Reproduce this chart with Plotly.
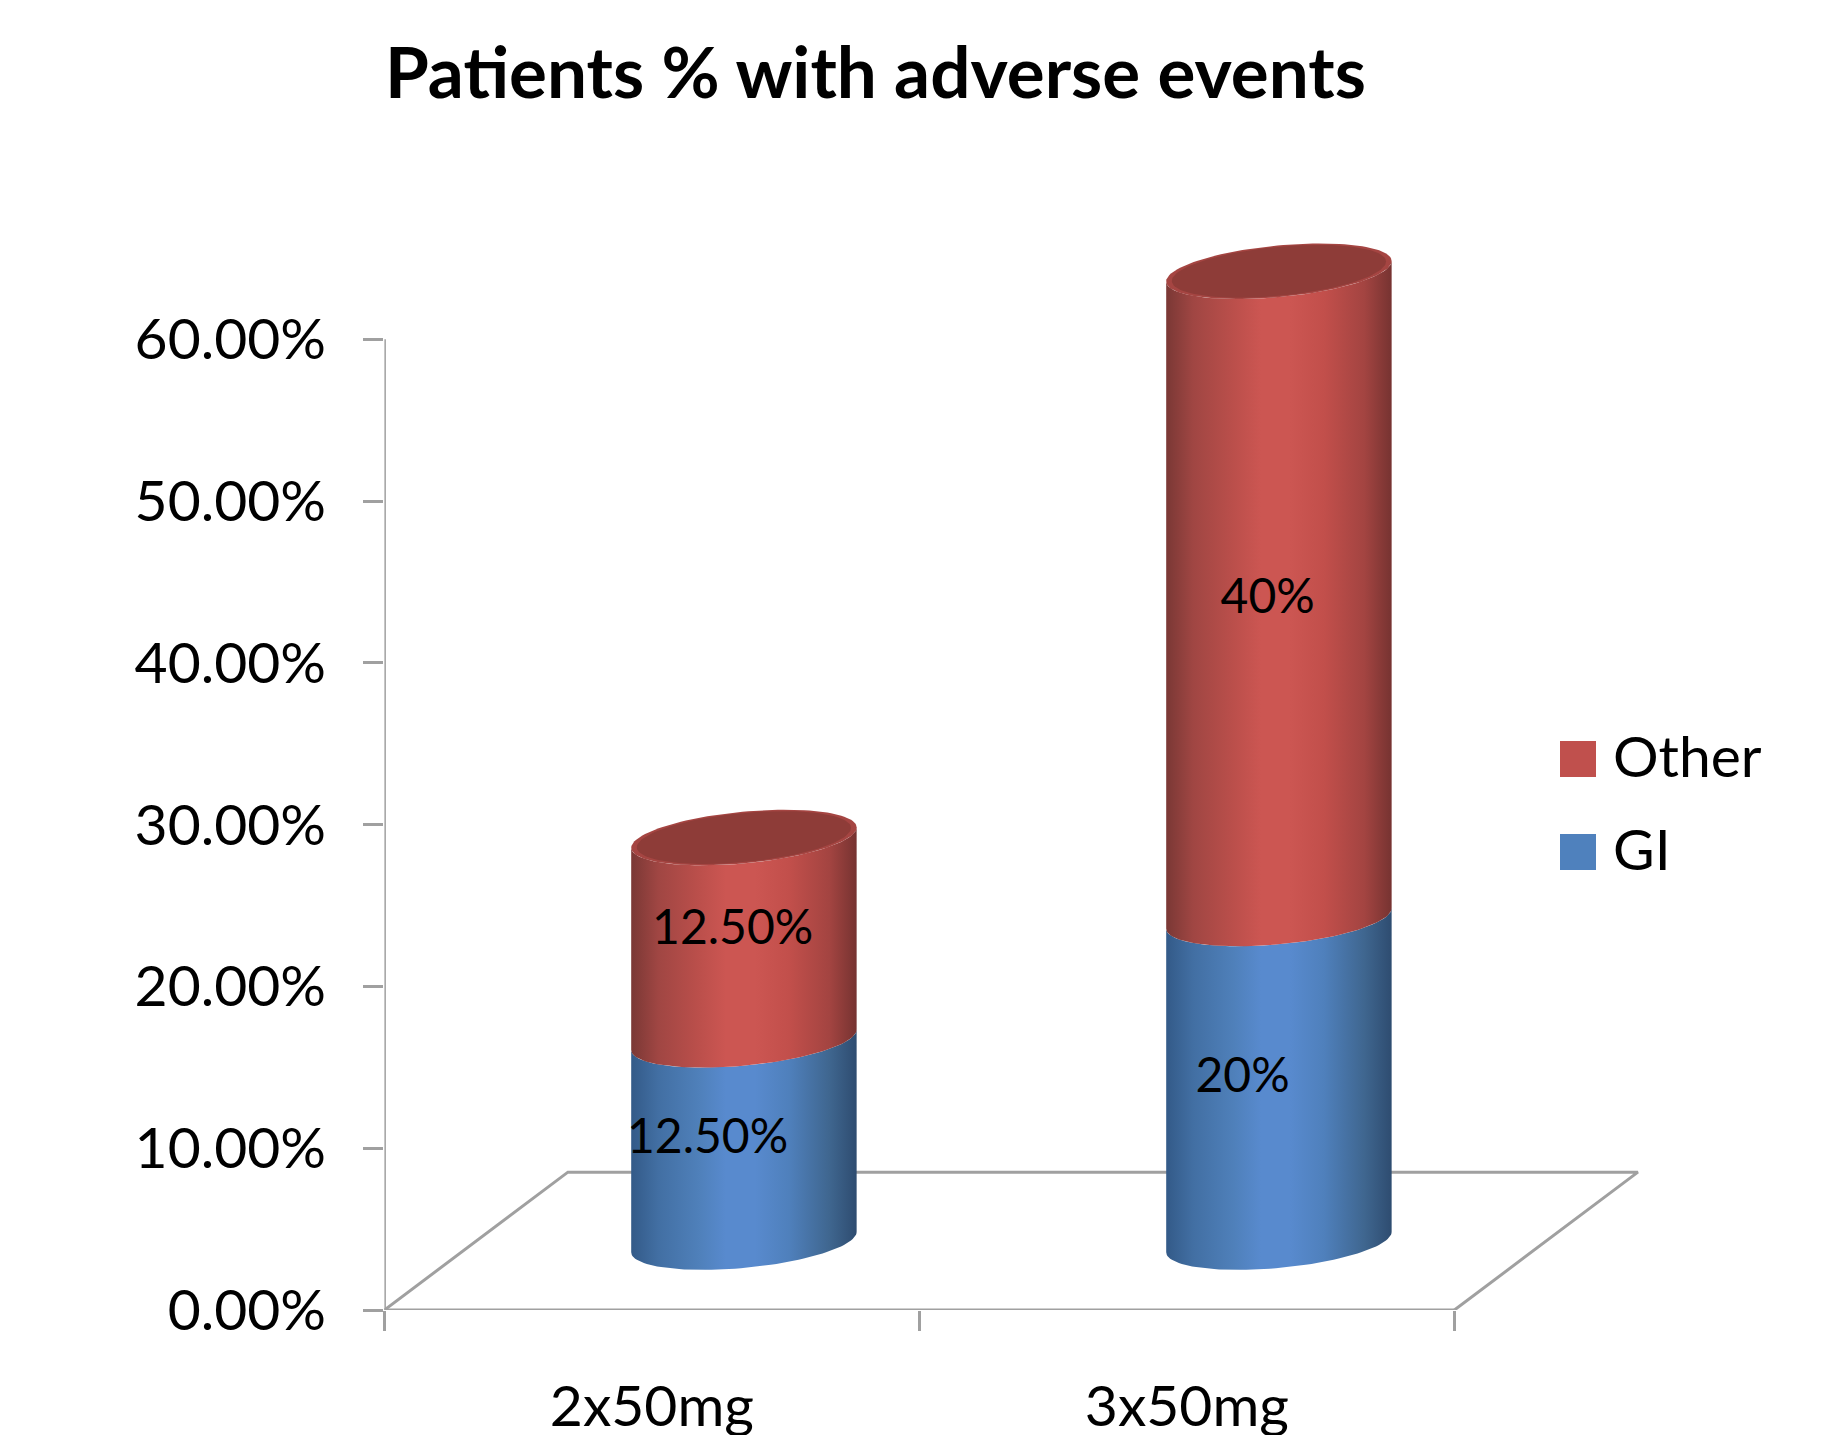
import numpy as np
import plotly.graph_objects as go

# Chart content
TITLE = "Patients % with adverse events"
categories = ["2x50mg", "3x50mg"]
gi_values = [0.125, 0.20]
other_values = [0.125, 0.40]
gi_labels = ["12.50%", "20%"]
other_labels = ["12.50%", "40%"]
y_ticks = [0, 0.1, 0.2, 0.3, 0.4, 0.5, 0.6]

# Fonts and colours
FONT = "Lato"
AXIS_GREY = "#a0a0a0"
RED_SWATCH = "#c0504d"
BLUE_SWATCH = "#4f81bd"
RED_RAMP = [[0, "#7a3835"], [0.12, "#a04643"], [0.3, "#bb4f4b"], [0.42, "#cc5652"], [0.55, "#cc5652"],
            [0.7, "#c24f4b"], [0.88, "#a34441"], [1, "#763331"]]
BLUE_RAMP = [[0, "#335a88"], [0.12, "#426fa3"], [0.3, "#4f80ba"], [0.42, "#588ace"], [0.55, "#588ace"],
             [0.7, "#4f80bc"], [0.88, "#3f668f"], [1, "#2e4c70"]]
TOP_RIM = "#a54542"
TOP_FACE = "#8e3c38"

# Pseudo-3D geometry, in axis units
FLOOR_DX, FLOOR_DY = 0.343, 0.0852
BAR_SHIFT = 0.172          # sideways shift of a bar from its category centre
BAR_HALF = 0.2107          # half the bar's width
BASE_LIFT = 0.042          # height of the bar's base above the front of the floor
ELL_B, ELL_TILT = 0.016, 0.0063

X_MAX, Y_MAX = 2.4, 0.68
PX_LEFT, PX_UNIT_X = 384.4, 535.0
PX_ZERO, PX_UNIT_Y = 1310.0, 1618.0
W, H = 1832, 1435

# Nudges that keep the value labels clear of the cylinder edges
GI_LABEL_NUDGE = [0.0, 0.0]
OTHER_LABEL_NUDGE = [0.004, -0.004]


def arc(cx, cy, t0, t1, scale=1.0, n=60):
    t = np.linspace(t0, t1, n)
    x = cx + scale * BAR_HALF * np.cos(t)
    y = cy + scale * (ELL_TILT * np.cos(t) + ELL_B * np.sin(t))
    return x, y


def segment(cx, lo, hi):
    # Side of a cylinder between two levels: lower front arc, then upper front arc back
    xl, yl = arc(cx, lo, np.pi, 2 * np.pi)
    xu, yu = arc(cx, hi, 2 * np.pi, np.pi)
    return np.r_[xl, xu, xl[0]], np.r_[yl, yu, yl[0]]


def paper_x(px):
    return px / W


def paper_y(py):
    return 1 - py / H


fig = go.Figure()

# Floor of the plot, behind the bars
fig.add_trace(go.Scatter(
    x=[0, FLOOR_DX, 2 + FLOOR_DX, 2], y=[0, FLOOR_DY, FLOOR_DY, 0], mode="lines",
    line=dict(color=AXIS_GREY, width=3), hoverinfo="skip", showlegend=False))
# Axis lines, which stop at the last tick even though the plot area runs further
fig.add_trace(go.Scatter(
    x=[0, 0, None, 0, 2], y=[0, y_ticks[-1], None, 0, 0], mode="lines",
    line=dict(color=AXIS_GREY, width=3), hoverinfo="skip", showlegend=False))

for i, (gi, other) in enumerate(zip(gi_values, other_values)):
    cx = i + 0.5 + BAR_SHIFT
    base = BASE_LIFT
    mid = base + gi
    top = mid + other
    for (lo, hi, ramp, name) in ((base, mid, BLUE_RAMP, "GI"), (mid, top, RED_RAMP, "Other")):
        sx, sy = segment(cx, lo, hi)
        fig.add_trace(go.Scatter(
            x=sx, y=sy, mode="lines", line=dict(width=0), fill="toself",
            fillgradient=dict(type="horizontal", colorscale=ramp),
            name=name, hoverinfo="skip", showlegend=False))
    # Top face of the cylinder: a lighter rim round a darker face
    for scale, colour in ((1.0, TOP_RIM), (0.95, TOP_FACE)):
        ex, ey = arc(cx, top, 0, 2 * np.pi, scale=scale, n=120)
        fig.add_trace(go.Scatter(
            x=ex, y=ey, mode="lines", line=dict(width=0), fill="toself",
            fillcolor=colour, hoverinfo="skip", showlegend=False))

# Value labels
bar_x = np.arange(len(categories)) + 0.5 + BAR_SHIFT
gi_arr = np.array(gi_values)
other_arr = np.array(other_values)
fig.add_trace(go.Scatter(
    x=bar_x - 0.068, y=BASE_LIFT + gi_arr / 2 + np.array(GI_LABEL_NUDGE), mode="text", text=gi_labels,
    textposition="middle center", textfont=dict(family=FONT, size=48, color="#000000"),
    hoverinfo="skip", showlegend=False))
fig.add_trace(go.Scatter(
    x=bar_x - 0.021, y=BASE_LIFT + gi_arr + other_arr / 2 + np.array(OTHER_LABEL_NUDGE), mode="text",
    text=other_labels,
    textposition="middle center", textfont=dict(family=FONT, size=48, color="#000000"),
    hoverinfo="skip", showlegend=False))

# Title, legend swatches and legend names
shapes = []
annotations = [dict(
    text=f"<b>{TITLE}</b>", xref="paper", yref="paper",
    x=paper_x(875), y=paper_y(71), xanchor="center", yanchor="middle",
    showarrow=False, font=dict(family=FONT, size=71, color="#000000"))]
for name, colour, y0 in (("Other", RED_SWATCH, 741), ("GI", BLUE_SWATCH, 834)):
    shapes.append(dict(type="rect", xref="paper", yref="paper",
                       x0=paper_x(1560), x1=paper_x(1596),
                       y0=paper_y(y0), y1=paper_y(y0 + 36),
                       fillcolor=colour, line=dict(width=0)))
    annotations.append(dict(text=name, xref="paper", yref="paper",
                            x=paper_x(1611), y=paper_y(y0 + 14), xanchor="left", yanchor="middle",
                            showarrow=False, font=dict(family=FONT, size=57, color="#000000")))

fig.update_layout(
    width=W, height=H, autosize=False, margin=dict(l=0, r=0, t=0, b=0, pad=0),
    paper_bgcolor="#ffffff", plot_bgcolor="#ffffff", showlegend=False,
    shapes=shapes, annotations=annotations,
    font=dict(family=FONT, size=57, color="#000000"),
    xaxis=dict(
        domain=[PX_LEFT / W, (PX_LEFT + X_MAX * PX_UNIT_X) / W], range=[0, X_MAX],
        tickvals=[0.5, 1.5], ticktext=categories, ticks="", ticklabelstandoff=58,
        automargin=False, showgrid=False, zeroline=False, showline=False,
        minor=dict(tickvals=[0, 1, 2], ticks="outside", ticklen=20, tickwidth=3,
                   tickcolor=AXIS_GREY, showgrid=False),
        tickfont=dict(family=FONT, size=57, color="#000000")),
    yaxis=dict(
        domain=[(H - PX_ZERO) / H, (H - PX_ZERO + Y_MAX * PX_UNIT_Y) / H], range=[0, Y_MAX],
        tickvals=y_ticks, tickformat=".2%", ticks="outside", ticklen=20, tickwidth=3,
        tickcolor=AXIS_GREY, ticklabelstandoff=26, automargin=False,
        showgrid=False, zeroline=False, showline=False,
        tickfont=dict(family=FONT, size=57, color="#000000")),
)

fig.write_html("out.html")
